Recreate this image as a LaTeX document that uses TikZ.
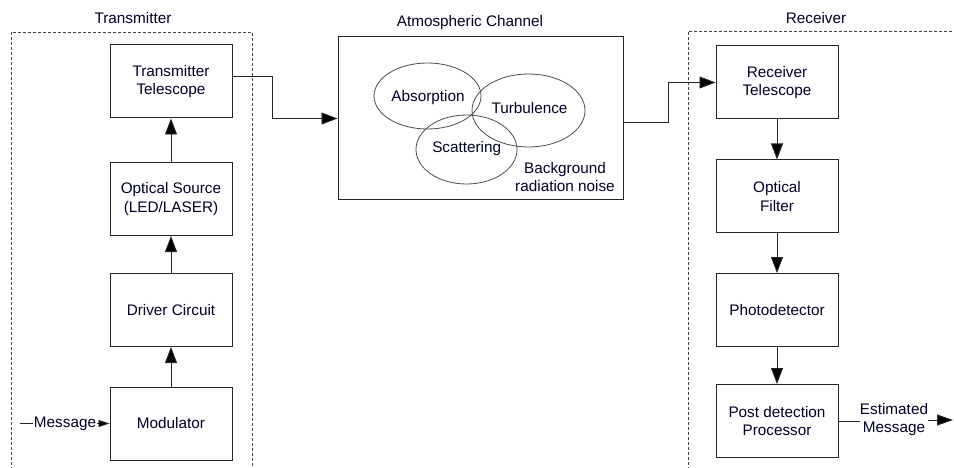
\documentclass[tikz,border=0pt]{standalone}
\usepackage{fontspec}
\setmainfont{Liberation Sans}
\usetikzlibrary{arrows.meta,calc}
\begin{document}
\begin{tikzpicture}[x=1pt,y=-1pt,
  font=\fontsize{15.3}{18.7}\selectfont,
  blk/.style={draw=black!85,line width=1pt,minimum width=122pt,minimum height=73pt,inner sep=0pt,align=center,text=black!85!blue},
  lbl/.style={inner sep=0pt,align=center,text=black!85!blue},
  grp/.style={draw=black!75,line width=0.8pt,dash pattern=on 3pt off 2pt},
  arr/.style={draw=black!85,line width=0.9pt,-{Triangle[length=16pt,width=12pt,fill=black]}},
  ell/.style={draw=black!70,line width=0.8pt},
  conn/.style={draw=black!85,line width=0.9pt}]
\useasboundingbox (0,0) rectangle (954,468);
\fill[white] (0,0) rectangle (954,468);
% group frames
\draw[grp] (11,475) -- (11,32) -- (252,32) -- (252,475);
\draw[grp] (688,475) -- (688,31) -- (965,31);
\node[lbl] (txlbl) at (133,18) {Transmitter};
\node[lbl] (rxlbl) at (816,18) {Receiver};
\node[lbl] (chlbl) at (470,23) {Atmospheric Channel};
% transmitter
\node[blk] (tt) at (171,81.5) {Transmitter\\Telescope};
\node[blk] (os) at (171,199) {Optical Source\\(LED/LASER)};
\node[blk] (dc) at (171,310) {Driver Circuit};
\node[blk] (mod) at (171,423.5) {Modulator};
% channel
\node[draw=black!85,line width=1pt,minimum width=285pt,minimum height=163pt,inner sep=0pt] (chan) at (480.5,118.5) {};
\draw[ell] (427.5,96) ellipse [x radius=53.5, y radius=33];
\draw[ell] (528.5,110.5) ellipse [x radius=56.5, y radius=36.5];
\draw[ell] (466.5,149.5) ellipse [x radius=50.5, y radius=34.5];
\node[lbl] (abs) at (428,98) {Absorption};
\node[lbl] (tur) at (529.5,108) {Turbulence};
\node[lbl] (sca) at (466.7,149) {Scattering};
\node[lbl] (bg) at (565,177) {Background\\radiation noise};
% receiver
\node[blk] (rt) at (777,82.5) {Receiver\\Telescope};
\node[blk] (of) at (777,196.5) {Optical\\Filter};
\node[blk] (pd) at (777,310) {Photodetector};
\node[blk] (pp) at (777,421) {Post detection\\Processor};
% message in
\coordinate (msgstart) at (20,423.5);
\node[lbl,inner xsep=0.5pt] (msg) at (65,423.5) {Message};
\draw[conn] (msgstart) -- (msg.west);
\draw[draw=black!85,line width=0.9pt,-{Triangle[length=11pt,width=7pt,fill=black]}] (msg.east) -- (mod.west);
% transmitter chain
\draw[arr] (mod.north) -- (dc.south);
\draw[arr] (dc.north) -- (os.south);
\draw[arr] (os.north) -- (tt.south);
\draw[arr] ([yshift=5.5pt]tt.east) -| ($(chan.west)+(-65,0)$) -- (chan.west);
\draw[arr] ([yshift=-3.5pt]chan.east) -| ($(rt.west)+(-47,0)$) -- (rt.west);
% receiver chain
\draw[arr] (rt.south) -- (of.north);
\draw[arr] (of.south) -- (pd.north);
\draw[arr] (pd.south) -- (pp.north);
% estimated message
\node[lbl] (est) at (894,419.5) {Estimated\\Message};
\coordinate (estend) at (953,420);
\draw[conn] (pp.east) -- (est.west |- pp.east);
\draw[draw=black!85,line width=0.9pt,-{Triangle[length=16pt,width=11pt,fill=black]}] (est.east |- estend) -- (estend);
\end{tikzpicture}
\end{document}
